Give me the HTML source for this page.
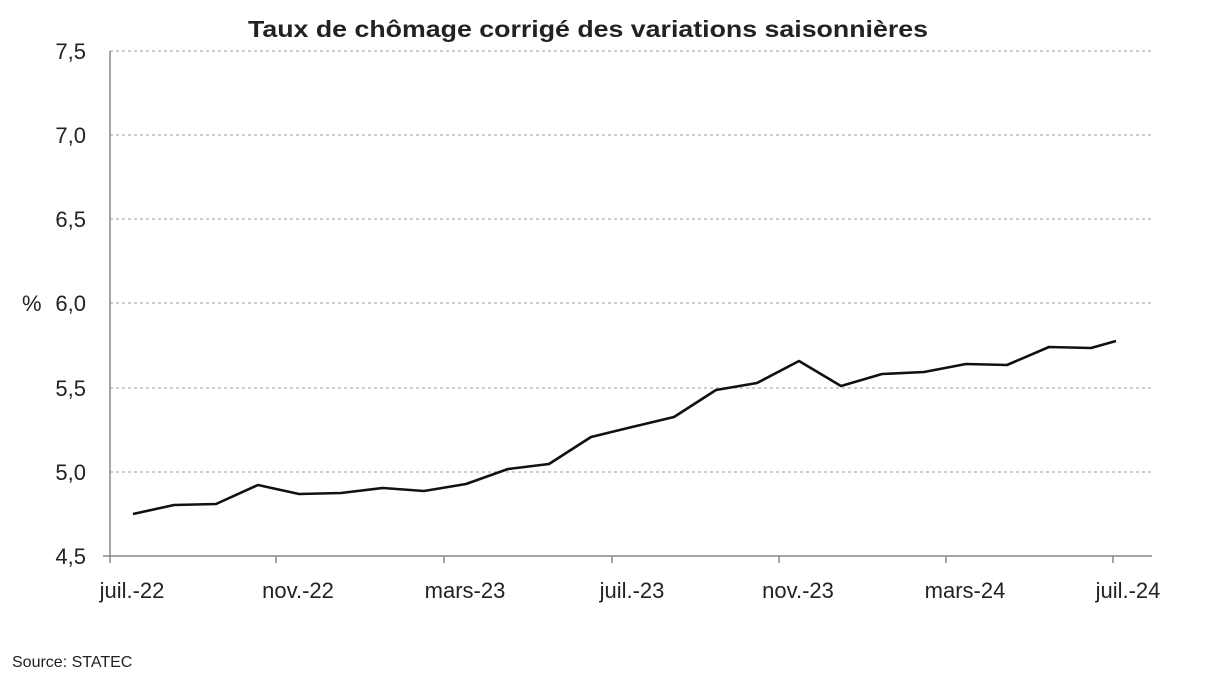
<!DOCTYPE html>
<html><head><meta charset="utf-8"><style>
body{margin:0;background:#fff;}
svg text{font-family:"Liberation Sans",sans-serif;fill:#222;}
</style></head><body>
<svg width="1224" height="689" viewBox="0 0 1224 689">
<rect width="1224" height="689" fill="#fff"/>
<text x="248" y="37" font-size="23" font-weight="bold" textLength="680" lengthAdjust="spacingAndGlyphs">Taux de chômage corrigé des variations saisonnières</text>
<g stroke="#b0b0b0" stroke-width="1.3" stroke-dasharray="3,3">
<line x1="110" y1="51" x2="1152" y2="51"/>
<line x1="110" y1="135" x2="1152" y2="135"/>
<line x1="110" y1="219" x2="1152" y2="219"/>
<line x1="110" y1="303" x2="1152" y2="303"/>
<line x1="110" y1="388" x2="1152" y2="388"/>
<line x1="110" y1="472" x2="1152" y2="472"/>
</g>
<g stroke="#888" stroke-width="1.5">
<line x1="110" y1="51" x2="110" y2="556"/>
<line x1="103" y1="556" x2="1152" y2="556"/>
<line x1="110" y1="556" x2="110" y2="563"/>
<line x1="276" y1="556" x2="276" y2="563"/>
<line x1="444" y1="556" x2="444" y2="563"/>
<line x1="612" y1="556" x2="612" y2="563"/>
<line x1="779" y1="556" x2="779" y2="563"/>
<line x1="946" y1="556" x2="946" y2="563"/>
<line x1="1113" y1="556" x2="1113" y2="563"/>
</g>
<g font-size="22" text-anchor="end">
<text x="86" y="59">7,5</text>
<text x="86" y="143">7,0</text>
<text x="86" y="227">6,5</text>
<text x="86" y="311">6,0</text>
<text x="86" y="396">5,5</text>
<text x="86" y="480">5,0</text>
<text x="86" y="564">4,5</text>
</g>
<text x="22" y="311" font-size="22">%</text>
<g font-size="22" text-anchor="middle">
<text x="132" y="598">juil.-22</text>
<text x="298" y="598">nov.-22</text>
<text x="465" y="598">mars-23</text>
<text x="632" y="598">juil.-23</text>
<text x="798" y="598">nov.-23</text>
<text x="965" y="598">mars-24</text>
<text x="1128" y="598">juil.-24</text>
</g>
<text x="12" y="667" font-size="16">Source: STATEC</text>
<polyline fill="none" stroke="#111" stroke-width="2.6" stroke-linejoin="round" points="133,514 174,505 216,504 258,485 299,494 341,493 383,488 424,491 466,484 508,469 549,464 591,437 632,427 674,417 716,390 757,383 799,361 841,386 882,374 924,372 966,364 1007,365 1049,347 1091,348 1116,341"/>
</svg>
</body></html>
